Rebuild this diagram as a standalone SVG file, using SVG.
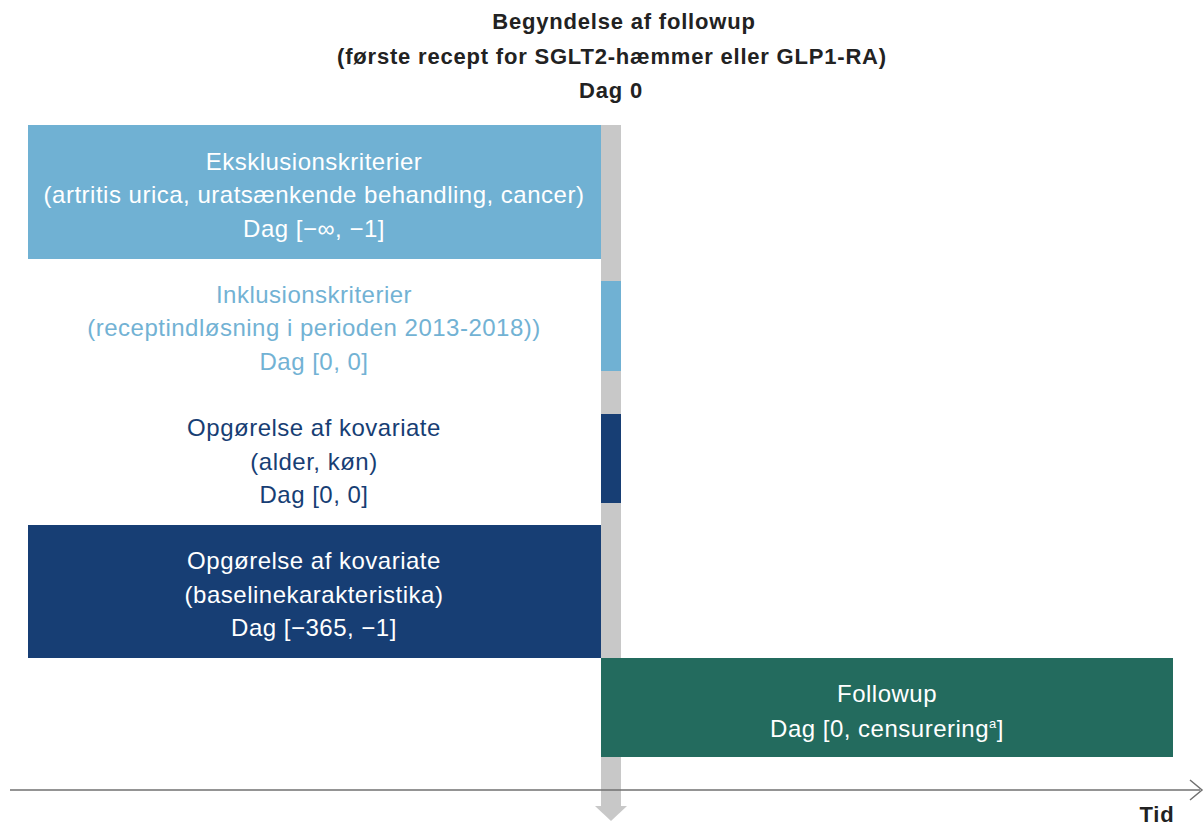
<svg xmlns="http://www.w3.org/2000/svg" width="1204" height="827" viewBox="0 0 1204 827">
<style>
text{font-family:"Liberation Sans",Arial,sans-serif;text-anchor:middle}
.t{font-size:22px;font-weight:bold;fill:#222;letter-spacing:0.8px}
.w{font-size:24px;fill:#fff;letter-spacing:0.5px}
.lb{font-size:24px;fill:#72B2D4;letter-spacing:0.5px}
.db{font-size:24px;fill:#173E74;letter-spacing:0.5px}
.light{fill:#70B1D3}
.dark{fill:#173E74}
.green{fill:#236B5E}
</style>
<rect width="1204" height="827" fill="#fff"/>
<g id="title">
<text class="t" x="624" y="29">Begyndelse af followup</text>
<text class="t" x="612" y="64">(første recept for SGLT2-hæmmer eller GLP1-RA)</text>
<text class="t" x="611" y="98">Dag 0</text>
</g>
<g id="connectors">
<rect x="601" y="125" width="20" height="682" fill="#C8C8C8"/>
<path d="M595 806 L627 806 L611 821 Z" fill="#C8C8C8"/>
<line x1="10" y1="790" x2="1200" y2="790" stroke="#707070" stroke-width="1.5"/>
<path d="M1190 780 L1202 790 L1190 800" fill="none" stroke="#707070" stroke-width="1.5"/>
</g>
<g id="eksklusion">
<rect class="light" x="28" y="125" width="573" height="134"/>
<text class="w" x="314" y="170">Eksklusionskriterier</text>
<text class="w" x="314" y="203">(artritis urica, uratsænkende behandling, cancer)</text>
<text class="w" x="314" y="237">Dag [−∞, −1]</text>
</g>
<g id="inklusion">
<rect class="light" x="601" y="281" width="20" height="90"/>
<text class="lb" x="314" y="303">Inklusionskriterier</text>
<text class="lb" x="314" y="336">(receptindløsning i perioden 2013-2018))</text>
<text class="lb" x="314" y="370">Dag [0, 0]</text>
</g>
<g id="kovariate1">
<rect class="dark" x="601" y="414" width="20" height="89"/>
<text class="db" x="314" y="436">Opgørelse af kovariate</text>
<text class="db" x="314" y="470">(alder, køn)</text>
<text class="db" x="314" y="503">Dag [0, 0]</text>
</g>
<g id="kovariate2">
<rect class="dark" x="28" y="525" width="573" height="133"/>
<text class="w" x="314" y="569">Opgørelse af kovariate</text>
<text class="w" x="314" y="603">(baselinekarakteristika)</text>
<text class="w" x="314" y="636">Dag [−365, −1]</text>
</g>
<g id="followup">
<rect class="green" x="601" y="658" width="572" height="99"/>
<text class="w" x="887" y="702">Followup</text>
<text class="w" x="887" y="737">Dag [0, censurering<tspan font-size="13" dy="-9">a</tspan><tspan dy="9">]</tspan></text>
</g>
<g id="axis-label">
<text class="t" x="1157" y="822" letter-spacing="0">Tid</text>
</g>
</svg>
